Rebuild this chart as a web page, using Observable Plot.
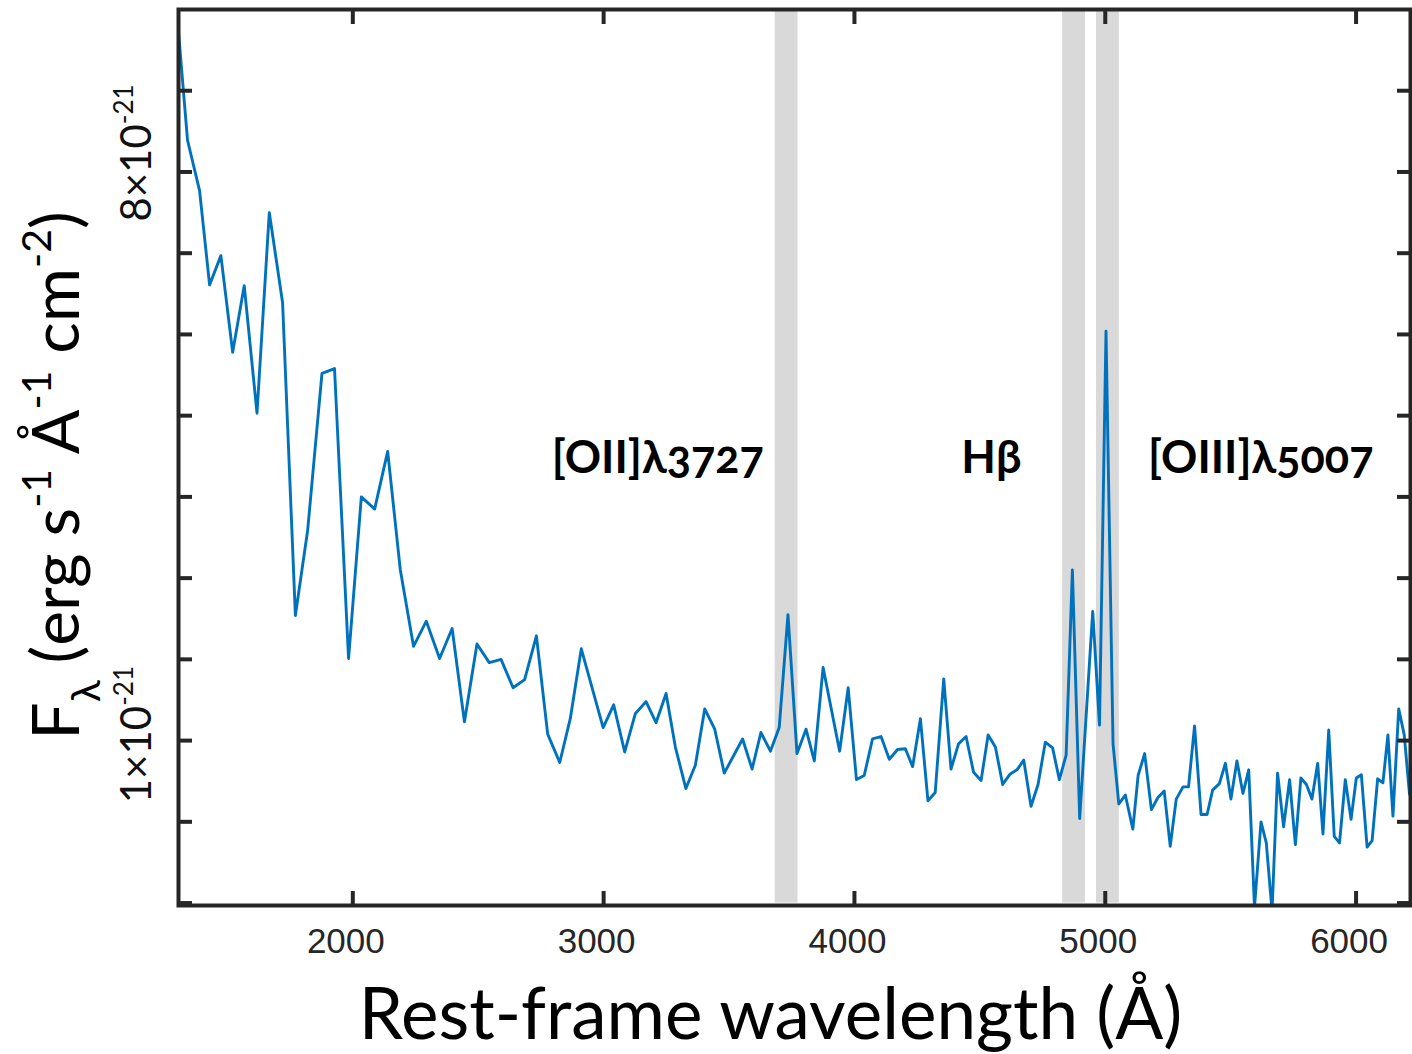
<!DOCTYPE html>
<html>
<head>
<meta charset="utf-8">
<script src="https://cdn.jsdelivr.net/npm/d3@7"></script>
<script src="https://cdn.jsdelivr.net/npm/@observablehq/plot@0.6"></script>
<style>
html, body { margin: 0; padding: 0; background: #fff; }
#chart { width: 1412px; height: 1054px; }
</style>
</head>
<body>
<div id="chart"></div>
<script>
// Rest-frame wavelength (Å)
const wavelength = [
  1303, 1341, 1389, 1429, 1474, 1521, 1567, 1618, 1667, 1720,
  1771, 1820, 1877, 1927, 1983, 2034, 2087, 2139, 2189, 2242,
  2293, 2346, 2396, 2445, 2495, 2544, 2591, 2639, 2685, 2732,
  2777, 2825, 2867, 2911, 2998, 3040, 3084, 3126, 3169, 3209,
  3249, 3286, 3328, 3366, 3403, 3443, 3481, 3554, 3592, 3627,
  3665, 3700, 3735, 3771, 3807, 3840, 3875, 3941, 3975, 4008,
  4039, 4072, 4106, 4139, 4172, 4203, 4232, 4263, 4293, 4322,
  4356, 4385, 4415, 4445, 4475, 4505, 4533, 4562, 4591, 4621,
  4648, 4675, 4704, 4732, 4761, 4790, 4817, 4844, 4869, 4898,
  4950, 4977, 5003, 5031, 5054, 5080, 5110, 5131, 5157, 5184,
  5210, 5235, 5259, 5283, 5310, 5332, 5356, 5382, 5406, 5428,
  5455, 5479, 5501, 5525, 5549, 5572, 5595, 5621, 5642, 5665,
  5687, 5711, 5735, 5758, 5780, 5802, 5824, 5847, 5868, 5891,
  5913, 5934, 5957, 5980, 6001, 6021, 6044, 6064, 6086, 6107,
  6127, 6147, 6170, 6192, 6213
];
// F_lambda in units of 1e-21 erg s^-1 Å^-1 cm^-2
const flux = [
  9.80, 8.39, 7.77, 6.61, 6.97, 5.78, 6.60, 5.03, 7.50, 6.39,
  2.54, 3.59, 5.52, 5.58, 2.01, 4.00, 3.85, 4.56, 3.11, 2.16,
  2.47, 2.01, 2.38, 1.23, 2.19, 1.96, 2.00, 1.65, 1.75, 2.29,
  1.08, 0.73, 1.27, 2.13, 1.16, 1.44, 0.86, 1.33, 1.48, 1.22,
  1.58, 0.92, 0.41, 0.70, 1.39, 1.14, 0.60, 1.02, 0.65, 1.10,
  0.87, 1.16, 2.55, 0.84, 1.14, 0.75, 1.90, 0.87, 1.65, 0.52,
  0.57, 1.02, 1.05, 0.77, 0.89, 0.90, 0.68, 1.27, 0.26, 0.36,
  1.76, 0.65, 0.96, 1.05, 0.61, 0.51, 1.07, 0.92, 0.46, 0.59,
  0.64, 0.76, 0.19, 0.46, 0.98, 0.91, 0.52, 0.82, 3.10, 0.04,
  2.59, 1.19, 6.04, 0.96, 0.22, 0.33, -0.09, 0.57, 0.84, 0.15,
  0.30, 0.38, -0.30, 0.28, 0.43, 0.43, 1.18, 0.09, 0.09, 0.39,
  0.47, 0.72, 0.28, 0.75, 0.35, 0.64, -1.05, 0.00, -0.26, -1.10,
  0.60, -0.06, 0.52, -0.28, 0.54, 0.46, 0.28, 0.72, -0.15, 1.13,
  -0.18, -0.26, 0.52, 0.03, 0.54, 0.58, -0.31, -0.23, 0.53, 0.48,
  1.07, 0.07, 1.39, 1.07, 0.34
];

// Emission-line windows (Å)
const bandStart = [3684, 4830, 4965];
const bandEnd   = [3775, 4921, 5056];
const bandFluxRange = [-1, 10];

// Line annotations
const lineLabels = ["[OII]λ3727", "Hβ", "[OIII]λ5007"];
const lineLabelX = [3216, 4546, 5620];
const lineLabelY = [4.29, 4.29, 4.29];

// Axes
const xDomain = [1305, 6217];
const yDomain = [-1.03, 10];
const xTicks = [2000, 3000, 4000, 5000, 6000];
const yTicks = [-1, 0, 1, 2, 3, 4, 5, 6, 7, 8, 9];
const yTickUpper = [{value: 8, label: "8×10^{-21}"}];
const yTickLower = [{value: 1, label: "1×10^{-21}"}];
const xLabel = "Rest-frame wavelength (Å)";
const yLabel = "F_{λ} (erg s^{-1} Å^{-1} cm^{-2})";

const spectrum = wavelength.map((w, i) => ({w, f: flux[i]}));
const bands = bandStart.map((s, i) => ({x1: s, x2: bandEnd[i], y1: bandFluxRange[0], y2: bandFluxRange[1]}));
const annotations = lineLabels.map((t, i) => ({t, x: lineLabelX[i], y: lineLabelY[i]}));

const frameColor = "#262626";
const font = "Lato, 'Open Sans', sans-serif";

const plot = Plot.plot({
  width: 1412,
  height: 1054,
  marginLeft: 178,
  marginRight: 2,
  marginTop: 9,
  marginBottom: 149,
  x: {domain: xDomain},
  y: {domain: yDomain},
  style: {background: "#fff", overflow: "visible"},
  marks: [
    Plot.rect(bands, {x1: "x1", x2: "x2", y1: "y1", y2: "y2", fill: "#d9d9d9"}),
    Plot.line(spectrum, {x: "w", y: "f", stroke: "#0072BD", strokeWidth: 2.9, clip: true}),
    Plot.text(annotations, {x: "x", y: "y", text: "t", fontSize: 45, fontWeight: "bold",
      fontFamily: font, lineAnchor: "bottom", textAnchor: "middle", fill: "#000"}),
    Plot.axisX(xTicks, {anchor: "bottom", tickSize: -14, strokeWidth: 4, stroke: frameColor, tickFormat: () => ""}),
    Plot.axisX(xTicks, {anchor: "top", tickSize: -14, strokeWidth: 4, stroke: frameColor, tickFormat: () => ""}),
    Plot.axisY(yTicks, {anchor: "left", tickSize: -14, strokeWidth: 4, stroke: frameColor, tickFormat: () => ""}),
    Plot.axisY(yTicks, {anchor: "right", tickSize: -14, strokeWidth: 4, stroke: frameColor, tickFormat: () => ""}),
    Plot.axisX(xTicks, {anchor: "bottom", tickSize: 0, tickPadding: 23, dx: -7, fontSize: 35,
      fontFamily: "'Liberation Sans', Arial, sans-serif", fill: "#262626", tickFormat: d => String(d)}),
    Plot.text(yTickUpper, {y: "value", text: "label", frameAnchor: "left", rotate: -90, dx: -28, dy: -19,
      lineAnchor: "bottom", textAnchor: "middle", fontSize: 42, fontFamily: font, fill: "#111"}),
    Plot.text(yTickLower, {y: "value", text: "label", frameAnchor: "left", rotate: -90, dx: -28, dy: -6,
      lineAnchor: "bottom", textAnchor: "middle", fontSize: 42, fontFamily: font, fill: "#111"}),
    Plot.text([yLabel], {text: d => d, frameAnchor: "left", rotate: -90, dx: -100, dy: 18,
      lineAnchor: "bottom", textAnchor: "middle", fontSize: 66, fontFamily: font, fill: "#000"}),
    Plot.text([xLabel], {text: d => d, frameAnchor: "bottom", dx: -24, dy: 133,
      lineAnchor: "bottom", textAnchor: "middle", fontSize: 71, fontFamily: font, fill: "#000"}),
    Plot.frame({stroke: frameColor, strokeWidth: 4})
  ]
});

document.getElementById("chart").appendChild(plot);

// Turn ^{..} and _{..} markup into real superscript / subscript tspans
d3.select(plot).selectAll("text").each(function () {
  const s = this.textContent;
  if (lineLabels.includes(s)) {
    this.style.fontVariantNumeric = "oldstyle-nums";
    this.style.fontFeatureSettings = "'onum' 1";
    return;
  }
  if (!/[\^_]\{/.test(s)) return;
  const fs = parseFloat(getComputedStyle(this).fontSize) || 40;
  const parts = [];
  const re = /([\^_])\{([^}]*)\}/g;
  let last = 0, m;
  while ((m = re.exec(s))) {
    if (m.index > last) parts.push({t: s.slice(last, m.index), mode: ""});
    parts.push({t: m[2], mode: m[1]});
    last = re.lastIndex;
  }
  if (last < s.length) parts.push({t: s.slice(last), mode: ""});
  const sel = d3.select(this);
  sel.text(null);
  let cur = 0;
  for (const p of parts) {
    const target = p.mode === "^" ? -0.42 * fs : p.mode === "_" ? 0.33 * fs : 0;
    const ts = sel.append("tspan").attr("dy", target - cur).text(p.t);
    if (p.mode) ts.attr("font-size", 0.62 * fs);
    cur = target;
  }
});
</script>
</body>
</html>
